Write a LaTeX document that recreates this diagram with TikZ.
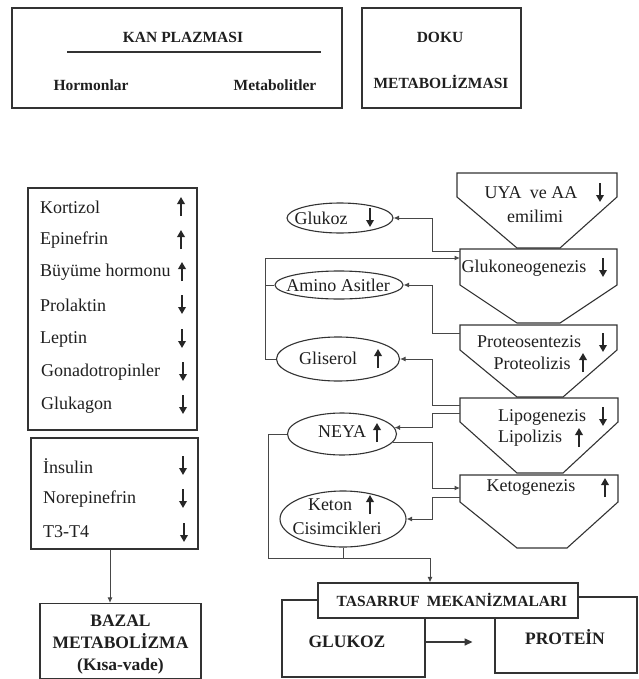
\documentclass[tikz,border=0pt]{standalone}
\usepackage{fontspec}
\setmainfont{Liberation Serif}
\usetikzlibrary{shapes.geometric,arrows.meta}
\tikzset{
 ln/.style={draw=black!80, line width=1.1pt},
 boxx/.style={ln, rectangle, inner sep=0pt},
 conn/.style={draw=black!72, line width=1pt, -{Latex[length=5.5pt,width=5pt]}},
 bigconn/.style={draw=black!78, line width=1.4pt, -{Triangle[length=8pt,width=7pt]}},
 wire/.style={draw=black!72, line width=1pt},
 harrow/.style={draw=black!85, line width=2.7pt, -{Triangle[length=7pt,width=7.5pt]}},
 txt/.style={font=\fontsize{18}{20}\selectfont, text=black!88, inner sep=0pt},
 htxt/.style={font=\fontsize{15.5}{18}\selectfont\bfseries, text=black!88, inner sep=0pt},
 btxt/.style={font=\fontsize{17.5}{22}\selectfont\bfseries, text=black!88, inner sep=0pt, align=center},
 oval/.style={ln, ellipse, inner sep=0pt},
 funnel/.style={ln, line join=miter},
}
\newcommand\uparr[2]{\draw[harrow] (#1,#2+9) -- (#1,#2-10);}
\newcommand\dnarr[2]{\draw[harrow] (#1,#2-10) -- (#1,#2+9);}
\begin{document}
\begin{tikzpicture}[x=1pt,y=-1pt]
\useasboundingbox (0,0) rectangle (638,679);
\fill[white] (0,0) rectangle (638,679);

% ---- top boxes
\node[boxx, minimum width=330pt, minimum height=100pt] (kan) at (177,58) {};
\draw[ln] (67,52) -- (321,52);
\node[htxt] (kant) at (183,37) {KAN PLAZMASI};
\node[htxt] (horm) at (91,85) {Hormonlar};
\node[htxt] (meta) at (275,85) {Metabolitler};
\node[boxx, minimum width=159pt, minimum height=100pt] (doku) at (441.5,58) {};
\node[htxt] (dokut) at (440,37) {DOKU};
\node[htxt] (dokum) at (441,82) {METABOLİZMASI};

% ---- hormone lists
\node[boxx, minimum width=169pt, minimum height=242pt] (list1) at (112.5,309) {};
\node[txt, anchor=west] (h1) at (40,207) {Kortizol};
\node[txt, anchor=west] (h2) at (40,240) {Epinefrin};
\node[txt, anchor=west] (h3) at (40,272) {Büyüme hormonu};
\node[txt, anchor=west] (h4) at (40,305) {Prolaktin};
\node[txt, anchor=west] (h5) at (40,339) {Leptin};
\node[txt, anchor=west] (h6) at (41,372) {Gonadotropinler};
\node[txt, anchor=west] (h7) at (41,405) {Glukagon};
\uparr{181}{207}
\uparr{181}{240}
\uparr{182}{272}
\dnarr{182}{305}
\dnarr{182}{339}
\dnarr{183}{372}
\dnarr{183}{405}

\node[boxx, minimum width=167pt, minimum height=111pt] (list2) at (114.5,493.5) {};
\node[txt, anchor=west] (i1) at (43,466) {İnsulin};
\node[txt, anchor=west] (i2) at (43,499) {Norepinefrin};
\node[txt, anchor=west] (i3) at (43,532) {T3-T4};
\dnarr{183}{466}
\dnarr{183}{499}
\dnarr{184}{533}

\node[boxx, minimum width=161pt, minimum height=75pt] (bazal) at (120.5,641) {};
\node[btxt] (bazalt) at (120.5,645) {BAZAL\\METABOLİZMA\\(Kısa-vade)};
\draw[conn] ([xshift=-4.5pt]list2.south) -- ([xshift=-4.5pt]list2.south |- bazal.north);

% ---- funnels
\draw[funnel] (457,173) -- (617,173) -- (617,197) -- (560,248) -- (517,248) -- (457,197) -- cycle;
\draw[funnel] (460,249) -- (617,249) -- (617,285) -- (560,323) -- (517,323) -- (460,285) -- cycle;
\draw[funnel] (460,325) -- (617,325) -- (617,350) -- (563,397) -- (517,397) -- (460,350) -- cycle;
\draw[funnel] (460,398) -- (618,398) -- (618,422) -- (563,473) -- (517,473) -- (460,422) -- cycle;
\draw[funnel] (460,475) -- (618,475) -- (618,502) -- (567,548) -- (517,548) -- (460,502) -- cycle;

\node[txt] (uya) at (531,193) {UYA\hspace{0.45em}ve AA};
\node[txt] (emil) at (535,216) {emilimi};
\dnarr{600}{193}
\node[txt] (gneo) at (524,268) {Glukoneogenezis};
\dnarr{603}{268}
\node[txt] (pros) at (529,342) {Proteosentezis};
\dnarr{603}{343}
\node[txt] (prol) at (532,363) {Proteolizis};
\uparr{583}{363}
\node[txt] (lipg) at (542,417) {Lipogenezis};
\dnarr{603}{417}
\node[txt] (lipl) at (530,438) {Lipolizis};
\uparr{579}{438}
\node[txt] (keto) at (531,487) {Ketogenezis};
\uparr{605}{488}

\coordinate (gnA) at (460,251);
\coordinate (gnB) at (460,258);
\coordinate (prA) at (460,333);
\coordinate (lpA) at (460,405);
\coordinate (lpB) at (460,413);
\coordinate (ktA) at (460,488);
\coordinate (ktB) at (460,497);
\coordinate (busR) at (432,0);
\coordinate (busL) at (265,0);
\coordinate (busN) at (268,0);
\coordinate (busB) at (0,558);
\coordinate (tasX) at (430,0);

% ---- ellipses
\node[oval, minimum width=106pt, minimum height=30pt] (glukoz) at (340,218) {};
\node[txt] (glukozt) at (321,218) {Glukoz};
\dnarr{370}{218}
\node[oval, minimum width=128pt, minimum height=28pt] (amino) at (339,285) {};
\node[txt] (aminot) at (338,285) {Amino Asitler};
\node[oval, minimum width=123pt, minimum height=44pt] (gliserol) at (338,359) {};
\node[txt] (gliserolt) at (328,358) {Gliserol};
\uparr{378}{359}
\node[oval, minimum width=109pt, minimum height=42pt] (neya) at (342,434) {};
\node[txt] (neyat) at (342,432) {NEYA};
\uparr{377}{433}
\node[oval, minimum width=126pt, minimum height=56pt] (keton) at (343,519) {};
\node[txt] (ketont) at (330,505) {Keton};
\node[txt] (cisim) at (337,528) {Cisimcikleri};
\uparr{370}{505}

% ---- connectors
\draw[conn] (gnA) -- (gnA -| busR) |- (glukoz.east);
\draw[conn] (gliserol.west) -- (gliserol.west -| busL) |- (gnB);
\draw[wire] (amino.west) -- (amino.west -| busL);
\draw[conn] (prA) -- (prA -| busR) |- (amino.east);
\draw[conn] (lpA) -- (lpA -| busR) |- (gliserol.east);
\draw[conn] (lpB) -- (lpB -| busR) |- (neya.7);
\draw[conn] (neya.-9) -- (neya.-9 -| busR) |- (ktA);
\draw[conn] (ktB) -- (ktB -| busR) |- (keton.east);

% ---- bottom boxes
\node[boxx, minimum width=143pt, minimum height=77pt] (gbox) at (353.5,638.5) {};
\node[boxx, minimum width=142pt, minimum height=76pt] (pbox) at (566,635) {};
\node[boxx, fill=white, minimum width=260pt, minimum height=35pt] (tas) at (448,600.5) {};
\node[htxt] (tast) at (452,600) {TASARRUF\hspace{0.45em}MEKANİZMALARI};
\node[btxt] (gboxt) at (347,642) {GLUKOZ};
\node[btxt] (pboxt) at (565,637) {PROTEİN};
\draw[bigconn] (gbox.east |- gboxt) -- ++(47,0);

\draw[conn] (neya.west) -- (neya.west -| busN) -- (busN |- busB) -- (tasX |- busB) -- (tasX |- tas.north);
\draw[wire] (keton.south) -- (keton.south |- busB);
\end{tikzpicture}
\end{document}
